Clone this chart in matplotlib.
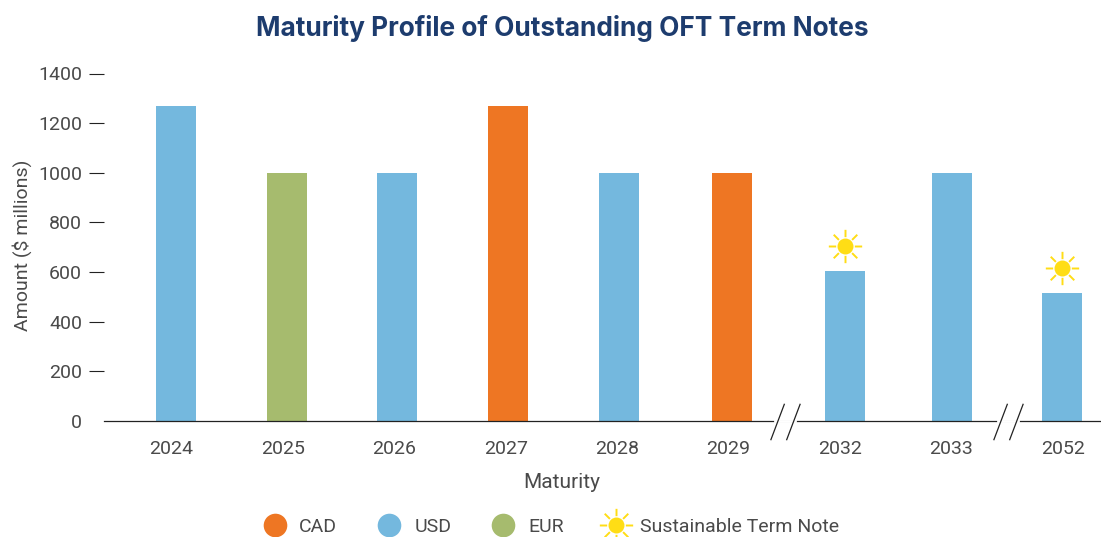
import matplotlib
matplotlib.use("Agg")
import matplotlib.pyplot as plt
import numpy as np
from matplotlib.legend_handler import HandlerTuple
from matplotlib.lines import Line2D
from matplotlib.path import Path

plt.rcParams['font.family'] = ['Roboto', 'DejaVu Sans']

# values
YEARS = ['2024', '2025', '2026', '2027', '2028', '2029', '2032', '2033', '2052']
AMOUNTS = [1270, 1000, 1000, 1270, 1000, 1000, 606, 1000, 515]
CURRENCY = ['USD', 'EUR', 'USD', 'CAD', 'USD', 'CAD', 'USD', 'USD', 'USD']
SUSTAINABLE = ['2032', '2052']
BREAK_AFTER = ['2029', '2033']
Y_TICKS = [0, 200, 400, 600, 800, 1000, 1200, 1400]

COLORS = {'CAD': '#EE7623', 'USD': '#74B8DE', 'EUR': '#A6BB6E'}
SUN = '#FFDD15'
NAVY = '#1D3C6E'
TEXT = '#4A4A4A'
W, H = 1101, 537
SLOT = 111.4  # pixels between two x ticks

# bars sit a few pixels right of their labels in the original
BAR_SHIFT_PX = [4.5, 4.5, 3, 2.5, 2, 3.5, 5.5, 0.5, -0.5]


def make_rays():
    verts, codes = [], []
    for a in np.arange(8) * np.pi / 4:
        verts += [(0.56 * np.cos(a), 0.56 * np.sin(a)), (np.cos(a), np.sin(a))]
        codes += [Path.MOVETO, Path.LINETO]
    return Path(verts, codes)


RAYS = make_rays()
SLASHES = Path([(-15, -19), (-1, 18), (1, -19), (15, 18)],
               [Path.MOVETO, Path.LINETO, Path.MOVETO, Path.LINETO])

fig = plt.figure(figsize=(W / 100, H / 100), dpi=100)
ax = fig.add_axes([104 / W, 1 - 421 / H, 996 / W, 347.5 / H])

x = np.arange(len(YEARS))
bar_x = x + np.array(BAR_SHIFT_PX) / SLOT
ax.bar(bar_x, AMOUNTS, width=40 / SLOT, color=[COLORS[c] for c in CURRENCY], zorder=2)

ax.set_xlim((104 - 171.5) / SLOT, (1100 - 171.5) / SLOT)
ax.set_ylim(0, 1400)
ax.set_xticks(x, YEARS)
ax.set_yticks(Y_TICKS)

for s in ['top', 'right', 'left']:
    ax.spines[s].set_visible(False)
ax.spines['bottom'].set_color('#222222')
ax.spines['bottom'].set_linewidth(0.9)
ax.tick_params(axis='x', length=0, pad=14, labelsize=14, labelcolor=TEXT)
ax.tick_params(axis='y', length=10.8, width=0.8, color='#222222', pad=5,
               labelsize=14, labelcolor=TEXT)
ax.yaxis.get_major_ticks()[0].tick1line.set_visible(False)

# suns over the sustainable notes
for yr in SUSTAINABLE:
    i = YEARS.index(yr)
    ax.plot(bar_x[i], AMOUNTS[i] + 100, marker='o', ms=11.5, mec='none', mfc=SUN, zorder=3)
    ax.plot(bar_x[i], AMOUNTS[i] + 100, marker=RAYS, ms=24, mew=1.4, mec=SUN, mfc='none', zorder=3)

# axis breaks
for yr in BREAK_AFTER:
    bx = YEARS.index(yr) + 0.51
    ax.plot([bx - 0.09, bx + 0.09], [0, 0], color='white', lw=2, clip_on=False, zorder=3)
    ax.plot(bx, 0, marker=SLASHES, ms=27, mew=0.9, mec='#222222', mfc='none',
            clip_on=False, zorder=4)

fig.text(562 / W, 1 - 29 / H, 'Maturity Profile of Outstanding OFT Term Notes',
         ha='center', va='center', fontsize=18.9, fontweight='bold', color=NAVY,
         family=['Inter', 'Roboto'])
fig.text(22 / W, 1 - 245 / H, 'Amount ($ millions)', rotation=90, ha='center', va='center',
         fontsize=14, color=TEXT)
fig.text(562 / W, 1 - 483 / H, 'Maturity', ha='center', va='center',
         fontsize=15, color=TEXT)

handles = [Line2D([], [], ls='none', marker='o', ms=17, mec='none', mfc=COLORS[c])
           for c in ['CAD', 'USD', 'EUR']]
handles.append((Line2D([], [], ls='none', marker='o', ms=11.5, mec='none', mfc=SUN),
                Line2D([], [], ls='none', marker=RAYS, ms=24, mew=1.4, mec=SUN, mfc='none')))
leg = fig.legend(handles, ['CAD', 'USD', 'EUR', 'Sustainable Term Note'],
                 loc='center', bbox_to_anchor=(549 / W, 1 - 527 / H), ncol=4, frameon=False,
                 fontsize=14, handlelength=1.65, handletextpad=0.45, columnspacing=1.85,
                 handler_map={tuple: HandlerTuple(ndivide=1, pad=0)})
for t in leg.get_texts():
    t.set_color(TEXT)

fig.savefig('out.png', dpi=100)
